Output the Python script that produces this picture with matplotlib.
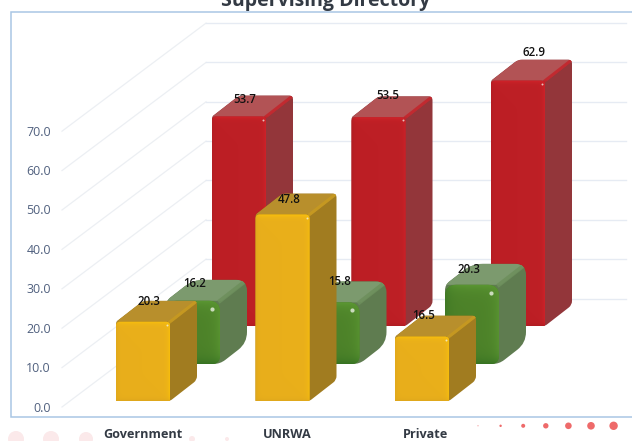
import numpy as np
import matplotlib
matplotlib.use("Agg")
import matplotlib.pyplot as plt
from matplotlib.path import Path
from matplotlib.patches import PathPatch, Rectangle

# ---- data ----
categories = ["Government", "UNRWA", "Private"]
yellow_values = [20.3, 47.8, 16.5]
green_values = [16.2, 15.8, 20.3]
red_values = [53.7, 53.5, 62.9]
tick_values = [0, 10, 20, 30, 40, 50, 60, 70]
title_text = "Supervising Directory"
dot_radii = [0.5, 1.2, 2.0, 2.7, 3.3, 3.8, 4.2]
faint_dot_radii = [8, 8, 7, 3, 2]

# ---- projection (pixel layout of the pseudo-3D chart) ----
PX = 3.9
GROUP = 139.5
ROW_X = [116, 166, 212]
ROW_Y = [401, 364, 326]
W = 54
DX, DY = 27, -21
plt.rcParams["font.family"] = ["Open Sans", "DejaVu Sans"]

fig = plt.figure(figsize=(6.32, 4.41), dpi=100)
ax = fig.add_axes([0, 0, 1, 1])
ax.axis("off")


def bar_box(cat, row, value):
    x = ROW_X[row] + GROUP * cat
    base = ROW_Y[row]
    return x, base, base - value * PX


def rounded(verts, r):
    """Closed path through verts with rounded corners; r may be per-vertex."""
    verts = np.asarray(verts, float)
    n = len(verts)
    rs = np.broadcast_to(r, (n,))
    out, codes = [], []
    for i in range(n):
        p, a, b = verts[i], verts[i - 1], verts[(i + 1) % n]
        ua = (a - p) / np.linalg.norm(a - p)
        ub = (b - p) / np.linalg.norm(b - p)
        out += [p + ua * rs[i], p, p + ub * rs[i]]
        codes += [Path.LINETO, Path.CURVE3, Path.CURVE3]
    codes[0] = Path.MOVETO
    out.append(out[0])
    codes.append(Path.CLOSEPOLY)
    return Path(out, codes)


def rgb(h):
    return np.array(matplotlib.colors.to_rgb(h))


def front_face(x, top, base, style, z):
    r = style["r"]
    verts = [(x, top), (x + W, top), (x + W, base), (x, base)]
    path = rounded(verts, [r, r, style["rb"], style["rb2"]])
    patch = PathPatch(path, fc=style["front"], ec="none", zorder=z)
    ax.add_patch(patch)
    nx, ny = int(W * 2), max(int((base - top) * 2), 2)
    xs = (np.arange(nx) + 0.5) / 2
    ys = (np.arange(ny) + 0.5) / 2
    gx, gy = np.meshgrid(xs, ys)
    b = style["bevel"]
    tone = np.ones((ny, nx, 3)) * rgb(style["front"])
    light = rgb(style["light"])
    dark = rgb(style["dark"])
    t_top = np.exp(-gy / b)[..., None]
    t_right = np.exp(-(W - gx) / b)[..., None]
    t_left = np.exp(-gx / b)[..., None]
    t_bottom = np.exp(-((base - top) - gy) / b)[..., None]
    tone = tone * (1 - t_top) + light * t_top
    tone = tone * (1 - 0.7 * t_right) + light * 0.7 * t_right
    tone = tone * (1 - 0.5 * t_left) + dark * 0.5 * t_left
    tone = tone * (1 - 0.8 * t_bottom) + dark * 0.8 * t_bottom
    im = ax.imshow(tone, extent=(x, x + W, base, top), aspect="auto",
                   interpolation="bilinear", zorder=z)
    im.set_clip_path(patch)
    # small specular spot at the top-right corner
    sx = x + W - style["spot_in"]
    sy = top + style["spot_in"]
    ax.scatter([sx], [sy], s=style["spot"], color="#f4f7ef", alpha=0.75,
               linewidths=0, zorder=z + 0.1)


def draw_bar(cat, row, value, style, z):
    x, base, top = bar_box(cat, row, value)
    r = style["r"]
    xr = x + W
    # whole silhouette first, in the side colour
    outline = [(x, top), (x + DX, top + DY), (xr + DX, top + DY),
               (xr + DX, base + DY), (xr, base), (x, base)]
    body = PathPatch(rounded(outline, [r * 0.5, r, r, r, r * 0.6, 0.5]),
                     fc=style["side"], ec="none", zorder=z)
    ax.add_patch(body)
    # top face clipped to the silhouette
    upper = [(x, top), (x + DX, top + DY), (xr + DX + 2, top + DY), (xr + 2, top)]
    face = PathPatch(Path(upper + [upper[0]], closed=True),
                     fc=style["top"], ec="none", zorder=z + 0.01)
    ax.add_patch(face)
    face.set_clip_path(body)
    # soft ridge between the top and side faces
    ridge = ax.plot([xr, xr + DX], [top, top + DY], color=style["ridge"],
                    lw=style["ridge_w"], alpha=0.85, zorder=z + 0.02)[0]
    ridge.set_clip_path(body)
    front_face(x, top, base, style, z + 0.03)


RED = dict(front="#bd1f25", light="#d9242b", dark="#a81a20", side="#93363a",
           top="#b25355", ridge="#c4232a", ridge_w=2.2,
           r=4, rb=1.5, rb2=0.5, bevel=2.2, spot=2, spot_in=3)
YELLOW = dict(front="#e9af1b", light="#ffc605", dark="#d9a21c", side="#a17c20",
              top="#b88f2c", ridge="#c89a20", ridge_w=2.2,
              r=4, rb=1, rb2=0.5, bevel=2.2, spot=2, spot_in=3)
GREEN = dict(front="#4d8229", light="#5d9a34", dark="#2f6d20", side="#5f7c50",
             top="#7c9a6e", ridge="#6d8f5c", ridge_w=3,
             r=11, rb=8, rb2=1, bevel=6, spot=9, spot_in=8)

# ---- frame ----
ax.add_patch(Rectangle((10.5, 11.5), 640, 405.5, fc="white", ec="#a9c6e4", lw=1.1, zorder=1))

# ---- gridlines and tick labels ----
FRONT_ZERO, WALL_ZERO = 407.0, 298.5
GRID_STEP = 3.94
for v in tick_values:
    yf = FRONT_ZERO - v * GRID_STEP
    yb = WALL_ZERO - v * GRID_STEP * 0.9985
    ax.plot([62, 206], [yf, yb], color="#eceff3", lw=0.9, zorder=2)
    ax.plot([206, 626], [yb, yb], color="#e6ebf3", lw=1.0, zorder=2)
    ax.text(51, yf + 1, f"{v:.1f}", ha="right", va="center", fontsize=8.9,
            color="#50607e", zorder=3)

# ---- bars (back row first) ----
for row, (vals, sty) in enumerate([(yellow_values, YELLOW), (green_values, GREEN), (red_values, RED)]):
    z = 10 - 3 * row
    for cat, val in enumerate(vals):
        draw_bar(cat, row, val, sty, z)

# ---- value labels ----
LABEL_OFFSET = {  # (row, cat): (dx from front-left, dy from front top)
    (0, 0): (33, -20), (0, 1): (34, -15), (0, 2): (29, -21),
    (1, 0): (29, -17), (1, 1): (34, -21), (1, 2): (24, -15),
    (2, 0): (33, -17), (2, 1): (36, -22), (2, 2): (43, -28),
}
for row, vals in enumerate([yellow_values, green_values, red_values]):
    for cat, val in enumerate(vals):
        x, base, top = bar_box(cat, row, val)
        dx, dy = LABEL_OFFSET[(row, cat)]
        ax.text(x + dx, top + dy, f"{val:.1f}", ha="center", va="center",
                fontsize=8.3, color="#111111", fontweight="semibold", zorder=20)

# ---- category labels, title ----
for name, cx in zip(categories, [143, 287, 425.5]):
    ax.text(cx, 434.5, name, ha="center", va="center", fontsize=9.1,
            fontweight="bold", color="#333a44", zorder=5)
ax.text(326, 6, title_text, ha="center", va="baseline", fontsize=14,
        fontweight="bold", color="#333a44", clip_on=False, zorder=5)

# ---- decorative dots ----
for i, r in enumerate(dot_radii):
    ax.add_patch(plt.Circle((478 + 22.6 * i, 425.8), r, color="#ee6a6a", lw=0, zorder=4))
for cx, r in zip([16, 51, 86, 192, 227], faint_dot_radii):
    ax.add_patch(plt.Circle((cx, 439), r, color="#fbe9ea", lw=0, zorder=0.5))

ax.set_xlim(0, 632)
ax.set_ylim(441, 0)
fig.savefig("out.png", dpi=100)
